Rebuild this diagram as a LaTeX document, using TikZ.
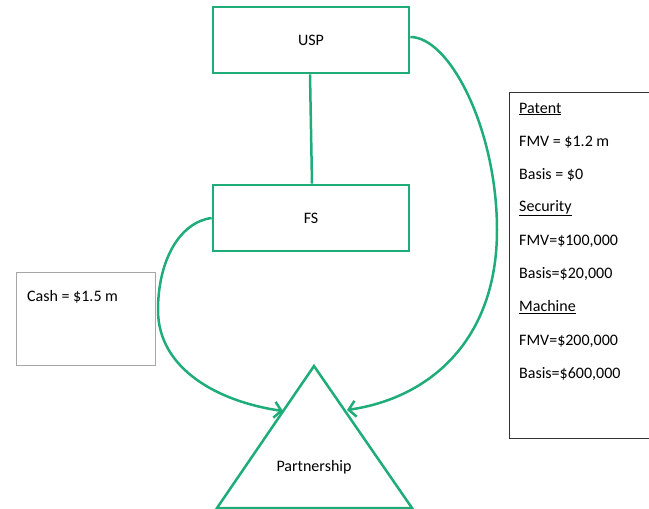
\documentclass[tikz,border=0pt]{standalone}
\usepackage{fontspec}
\setmainfont{Carlito}
\usetikzlibrary{arrows.meta}
\definecolor{grn}{RGB}{30,172,120}
\tikzset{
  greenbox/.style={draw=grn, line width=2.7pt, minimum width=196pt, minimum height=66pt, font=\fontsize{16}{19}\selectfont},
  link/.style={draw=grn, line width=2.5pt},
  arrowlink/.style={link, -{Straight Barb[length=7pt,width=16pt,line width=2.5pt]}},
  info/.style={anchor=west, inner sep=0pt, font=\fontsize{16}{19}\selectfont},
}
\begin{document}
\begin{tikzpicture}[x=1pt,y=-1pt]
\useasboundingbox (0,0) rectangle (649,509);
% boxes
\node[greenbox] (usp) at (311,40) {USP};
\node[greenbox] (fs) at (311,218) {FS};
\draw[link] ([xshift=-1pt]usp.south) -- ([xshift=1pt]fs.north);
% cash box
\draw[gray!70, line width=1pt] (16,272) rectangle (155,365);
\node[info] (cash) at (27,297) {Cash = \$1.5 m};
% right info box
\draw[black!80, line width=1pt] (509,92) rectangle (660,438);
\node[info] (t1) at (519,109) {\underline{Patent}};
\node[info] (t2) at (519,142) {FMV = \$1.2 m};
\node[info] (t3) at (519,175) {Basis = \$0};
\node[info] (t4) at (519,208) {\underline{Security}};
\node[info] (t5) at (519,241) {FMV=\$100,000};
\node[info] (t6) at (519,274) {Basis=\$20,000};
\node[info] (t7) at (519,307) {\underline{Machine}};
\node[info] (t8) at (519,341) {FMV=\$200,000};
\node[info] (t9) at (519,374) {Basis=\$600,000};
% triangle
\coordinate (apex) at (314,366);
\coordinate (bl) at (217,508);
\coordinate (br) at (412,508);
\draw[link, line join=miter] (apex) -- (bl) -- (br) -- cycle;
\node[font=\fontsize{16}{19}\selectfont] (pship) at (314,467) {Partnership};
\coordinate (a1) at (283,411);
\coordinate (a2) at (347,410);
% curved arrows
\draw[arrowlink] (fs.west) .. controls (180,222) and (158,260) .. (158,310) .. controls (158,370) and (220,402) .. (a1);
\draw[arrowlink] ([yshift=3pt]usp.east) .. controls (450,37) and (497,130) .. (497,230) .. controls (497,340) and (430,398) .. (a2);
\end{tikzpicture}
\end{document}
